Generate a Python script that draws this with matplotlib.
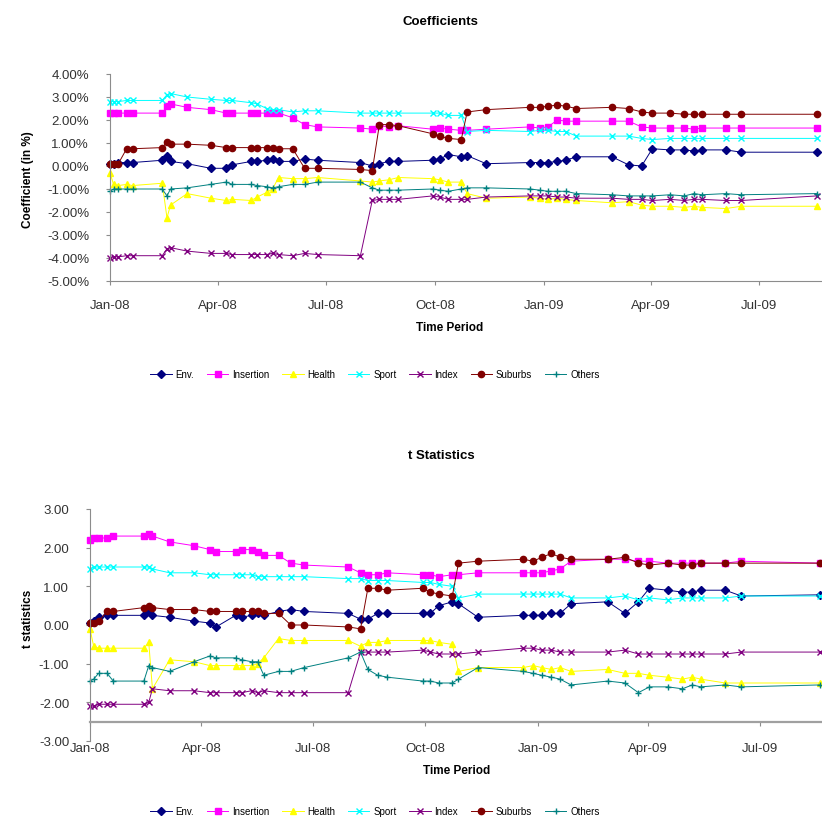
import numpy as np
import pandas as pd
import matplotlib
matplotlib.use('Agg')
import matplotlib.pyplot as plt
import matplotlib.dates as mdates
from matplotlib.ticker import FormatStrFormatter

plt.rcParams['font.family'] = ['Liberation Sans', 'DejaVu Sans']

# regression dates shared by every series
DATES = ['2008-01-01', '2008-01-04', '2008-01-08', '2008-01-15', '2008-01-20',
         '2008-02-14', '2008-02-18', '2008-02-21', '2008-03-06', '2008-03-26',
         '2008-04-08', '2008-04-13', '2008-04-29', '2008-05-04', '2008-05-12',
         '2008-05-17', '2008-05-22', '2008-06-03', '2008-06-13', '2008-06-24',
         '2008-07-30', '2008-08-09', '2008-08-15', '2008-08-23', '2008-08-31',
         '2008-09-29', '2008-10-05', '2008-10-12', '2008-10-23', '2008-10-28',
         '2008-11-13', '2008-12-20', '2008-12-28', '2009-01-04', '2009-01-12',
         '2009-01-19', '2009-01-28', '2009-02-27', '2009-03-13', '2009-03-24',
         '2009-04-02', '2009-04-17', '2009-04-29', '2009-05-07', '2009-05-14',
         '2009-06-03', '2009-06-16', '2009-08-19']

SERIES = ['Env.', 'Insertion', 'Health', 'Sport', 'Index', 'Suburbs', 'Others']

# coefficients (in %)
coef_env = [0.1, 0.1, 0.15, 0.15, 0.15, 0.25, 0.45, 0.2, 0.1, -0.1,
            -0.1, 0.05, 0.2, 0.2, 0.25, 0.3, 0.2, 0.2, 0.3, 0.25,
            0.15, 0.0, 0.1, 0.2, 0.2, 0.25, 0.3, 0.5, 0.4, 0.45,
            0.1, 0.15, 0.15, 0.15, 0.2, 0.25, 0.4, 0.4, 0.05, 0.0,
            0.75, 0.7, 0.7, 0.65, 0.7, 0.7, 0.6, 0.6]
coef_insertion = [2.3, 2.3, 2.3, 2.3, 2.3, 2.3, 2.6, 2.7, 2.55, 2.45,
                  2.3, 2.3, 2.3, 2.3, 2.3, 2.3, 2.3, 2.1, 1.8, 1.7,
                  1.65, 1.6, 1.75, 1.7, 1.75, 1.6, 1.65, 1.6, 1.55, 1.55,
                  1.6, 1.7, 1.65, 1.7, 2.0, 1.95, 1.95, 1.95, 1.95, 1.7,
                  1.65, 1.65, 1.65, 1.6, 1.65, 1.65, 1.65, 1.65]
coef_health = [-0.3, -0.8, -0.85, -0.8, -0.85, -0.75, -2.25, -1.7, -1.2, -1.4,
               -1.5, -1.45, -1.5, -1.35, -1.15, -1.0, -0.5, -0.55, -0.55, -0.5,
               -0.65, -0.7, -0.65, -0.6, -0.5, -0.55, -0.6, -0.7, -0.7, -1.2,
               -1.4, -1.35, -1.4, -1.45, -1.4, -1.45, -1.5, -1.6, -1.55, -1.7,
               -1.75, -1.75, -1.8, -1.75, -1.8, -1.85, -1.75, -1.75]
coef_sport = [2.8, 2.8, 2.8, 2.85, 2.85, 2.85, 3.1, 3.15, 3.0, 2.9,
              2.85, 2.85, 2.75, 2.7, 2.5, 2.45, 2.45, 2.35, 2.4, 2.4,
              2.3, 2.3, 2.3, 2.3, 2.3, 2.3, 2.3, 2.2, 2.2, 1.5,
              1.55, 1.5, 1.55, 1.55, 1.5, 1.5, 1.3, 1.3, 1.3, 1.2,
              1.15, 1.2, 1.2, 1.2, 1.2, 1.2, 1.2, 1.2]
coef_index = [-4.0, -3.95, -3.95, -3.9, -3.9, -3.9, -3.6, -3.55, -3.7, -3.8,
              -3.8, -3.85, -3.85, -3.85, -3.85, -3.8, -3.85, -3.9, -3.8, -3.85,
              -3.9, -1.5, -1.45, -1.45, -1.45, -1.3, -1.35, -1.45, -1.45, -1.45,
              -1.35, -1.3, -1.3, -1.3, -1.35, -1.35, -1.4, -1.4, -1.45, -1.45,
              -1.5, -1.45, -1.5, -1.45, -1.45, -1.5, -1.5, -1.3]
coef_suburbs = [0.1, 0.1, 0.1, 0.75, 0.75, 0.8, 1.05, 0.95, 0.95, 0.9,
                0.8, 0.8, 0.8, 0.8, 0.8, 0.8, 0.75, 0.75, -0.1, -0.1,
                -0.15, -0.2, 1.8, 1.8, 1.75, 1.4, 1.3, 1.2, 1.15, 2.35,
                2.45, 2.55, 2.55, 2.6, 2.65, 2.6, 2.5, 2.55, 2.5, 2.35,
                2.3, 2.3, 2.25, 2.25, 2.25, 2.25, 2.25, 2.25]
coef_others = [-1.1, -1.0, -1.0, -1.0, -1.0, -1.0, -1.3, -1.0, -0.95, -0.8,
               -0.7, -0.8, -0.8, -0.85, -0.9, -0.95, -0.9, -0.8, -0.8, -0.7,
               -0.7, -0.95, -1.05, -1.05, -1.05, -1.0, -1.05, -1.1, -1.0, -0.95,
               -0.95, -1.0, -1.05, -1.1, -1.1, -1.1, -1.2, -1.25, -1.3, -1.3,
               -1.3, -1.25, -1.3, -1.2, -1.25, -1.2, -1.25, -1.2]

# t statistics
t_env = [0.05, 0.1, 0.2, 0.25, 0.25, 0.25, 0.35, 0.25, 0.2, 0.1,
         0.05, -0.05, 0.25, 0.2, 0.25, 0.3, 0.25, 0.35, 0.4, 0.35,
         0.3, 0.15, 0.15, 0.3, 0.3, 0.3, 0.3, 0.5, 0.6, 0.55,
         0.2, 0.25, 0.25, 0.25, 0.3, 0.3, 0.55, 0.6, 0.3, 0.6,
         0.95, 0.9, 0.85, 0.85, 0.9, 0.9, 0.75, 0.78]
t_insertion = [2.2, 2.25, 2.25, 2.25, 2.3, 2.3, 2.35, 2.3, 2.15, 2.05,
               1.95, 1.9, 1.9, 1.95, 1.95, 1.9, 1.8, 1.8, 1.6, 1.55,
               1.5, 1.35, 1.3, 1.3, 1.35, 1.3, 1.3, 1.25, 1.3, 1.3,
               1.35, 1.35, 1.35, 1.35, 1.4, 1.45, 1.65, 1.7, 1.7, 1.65,
               1.65, 1.6, 1.6, 1.6, 1.6, 1.6, 1.65, 1.6]
t_health = [-0.1, -0.55, -0.6, -0.6, -0.6, -0.6, -0.45, -1.65, -0.9, -0.95,
            -1.05, -1.05, -1.05, -1.05, -1.05, -1.0, -0.85, -0.35, -0.4, -0.4,
            -0.4, -0.55, -0.45, -0.45, -0.4, -0.4, -0.4, -0.45, -0.5, -1.2,
            -1.1, -1.1, -1.05, -1.1, -1.15, -1.1, -1.2, -1.15, -1.25, -1.25,
            -1.3, -1.35, -1.4, -1.35, -1.4, -1.5, -1.5, -1.5]
t_sport = [1.45, 1.5, 1.5, 1.5, 1.5, 1.5, 1.5, 1.45, 1.35, 1.35,
           1.3, 1.3, 1.3, 1.3, 1.3, 1.25, 1.25, 1.25, 1.25, 1.25,
           1.2, 1.2, 1.15, 1.15, 1.15, 1.1, 1.1, 1.05, 1.0, 0.7,
           0.8, 0.8, 0.8, 0.8, 0.8, 0.8, 0.7, 0.7, 0.75, 0.65,
           0.7, 0.65, 0.7, 0.7, 0.7, 0.7, 0.75, 0.75]
t_index = [-2.1, -2.1, -2.05, -2.05, -2.05, -2.05, -2.0, -1.65, -1.7, -1.7,
           -1.75, -1.75, -1.75, -1.75, -1.7, -1.75, -1.7, -1.75, -1.75, -1.75,
           -1.75, -0.7, -0.7, -0.7, -0.7, -0.65, -0.7, -0.75, -0.75, -0.75,
           -0.7, -0.6, -0.6, -0.65, -0.65, -0.7, -0.7, -0.7, -0.65, -0.75,
           -0.75, -0.75, -0.75, -0.75, -0.75, -0.75, -0.7, -0.7]
t_suburbs = [0.05, 0.05, 0.1, 0.35, 0.35, 0.45, 0.5, 0.45, 0.4, 0.4,
             0.35, 0.35, 0.35, 0.35, 0.35, 0.35, 0.3, 0.3, 0.0, 0.0,
             -0.05, -0.1, 0.95, 0.95, 0.9, 0.95, 0.85, 0.8, 0.75, 1.6,
             1.65, 1.7, 1.65, 1.75, 1.85, 1.75, 1.7, 1.7, 1.75, 1.6,
             1.55, 1.6, 1.55, 1.55, 1.6, 1.6, 1.6, 1.6]
t_others = [-1.45, -1.4, -1.25, -1.25, -1.45, -1.45, -1.05, -1.1, -1.2, -0.95,
            -0.8, -0.85, -0.85, -0.9, -0.95, -0.95, -1.3, -1.2, -1.2, -1.1,
            -0.85, -0.7, -1.15, -1.3, -1.35, -1.45, -1.45, -1.5, -1.5, -1.4,
            -1.1, -1.2, -1.25, -1.3, -1.35, -1.4, -1.55, -1.45, -1.5, -1.75,
            -1.6, -1.6, -1.65, -1.55, -1.6, -1.55, -1.6, -1.55]

COLORS  = ['#000080', '#FF00FF', '#FFFF00', '#00FFFF', '#800080', '#800000', '#008080']
MARKERS = ['D', 's', '^', 'x', 'x', 'o', '+']
MSIZES  = [4.0, 4.0, 4.5, 4.0, 4.0, 4.5, 5.0]

dates = pd.to_datetime(DATES)
coef = [coef_env, coef_insertion, coef_health, coef_sport, coef_index, coef_suburbs, coef_others]
tstat = [t_env, t_insertion, t_health, t_sport, t_index, t_suburbs, t_others]

W, H = 822, 820
fig = plt.figure(figsize=(W / 100, H / 100), dpi=100)


def px_axes(x0, y0, x1, y1):
    return fig.add_axes([x0 / W, 1 - y1 / H, (x1 - x0) / W, (y1 - y0) / H])


def draw(ax, data, xmax):
    for vals, name, c, m, ms in zip(data, SERIES, COLORS, MARKERS, MSIZES):
        ax.plot(dates, vals, color=c, lw=0.7, marker=m, ms=ms, mew=1.0,
                label=name, clip_on=False)
    ax.set_xlim(pd.Timestamp('2008-01-01'), pd.Timestamp(xmax))
    ax.xaxis.set_major_locator(mdates.MonthLocator(bymonth=[1, 4, 7, 10]))
    ax.xaxis.set_major_formatter(mdates.DateFormatter('%b-%y'))
    for s in ['top', 'right']:
        ax.spines[s].set_visible(False)
    for s in ['left', 'bottom']:
        ax.spines[s].set_color('#8c8c8c')
    ax.tick_params(direction='out', length=3, color='#8c8c8c', labelsize=9.5,
                   labelcolor='#333333')
    ax.tick_params(axis='y', pad=12)
    ax.tick_params(axis='x', pad=10)


# top panel: coefficients
ax1 = px_axes(110, 75, 822, 282)
draw(ax1, coef, '2009-08-23')
ax1.set_ylim(-5, 4)
ax1.set_yticks(np.arange(-5, 5, 1))
ax1.yaxis.set_major_formatter(FormatStrFormatter('%.2f%%'))

# bottom panel: t statistics (category axis crosses at -2.5)
ax2 = px_axes(90, 510, 822, 742)
draw(ax2, tstat, '2009-08-21')
ax2.set_ylim(-3, 3)
ax2.set_yticks(np.arange(-3, 4, 1))
ax2.yaxis.set_major_formatter(FormatStrFormatter('%.2f'))
ax2.spines['bottom'].set_position(('data', -2.5))
ax2.spines['bottom'].set_linewidth(1.6)
ax2.spines['bottom'].set_color('#a0a0a0')
ax2.tick_params(axis='x', pad=12)

fig.text(440 / W, 1 - 22 / H, 'Coefficients', ha='center', va='center',
         fontsize=9.5, fontweight='bold')
fig.text(441 / W, 1 - 456 / H, 't Statistics', ha='center', va='center',
         fontsize=9.5, fontweight='bold')
fig.text(450 / W, 1 - 328 / H, 'Time Period', ha='center', va='center',
         fontsize=8.5, fontweight='bold')
fig.text(457 / W, 1 - 771 / H, 'Time Period', ha='center', va='center',
         fontsize=8.5, fontweight='bold')
fig.text(28 / W, 1 - 180 / H, 'Coefficient (in %)', ha='center', va='center',
         rotation=90, fontsize=8.5, fontweight='bold')
fig.text(28 / W, 1 - 619 / H, 't statistics', ha='center', va='center',
         rotation=90, fontsize=8.5, fontweight='bold')

for ax, ly in [(ax1, 375), (ax2, 812)]:
    h, l = ax.get_legend_handles_labels()
    fig.legend(h, l, loc='center', bbox_to_anchor=(375 / W, 1 - ly / H),
               ncol=7, frameon=False, fontsize=7, handlelength=2.2,
               columnspacing=1.3, handletextpad=0.4)

fig.savefig('out.png', dpi=100)
